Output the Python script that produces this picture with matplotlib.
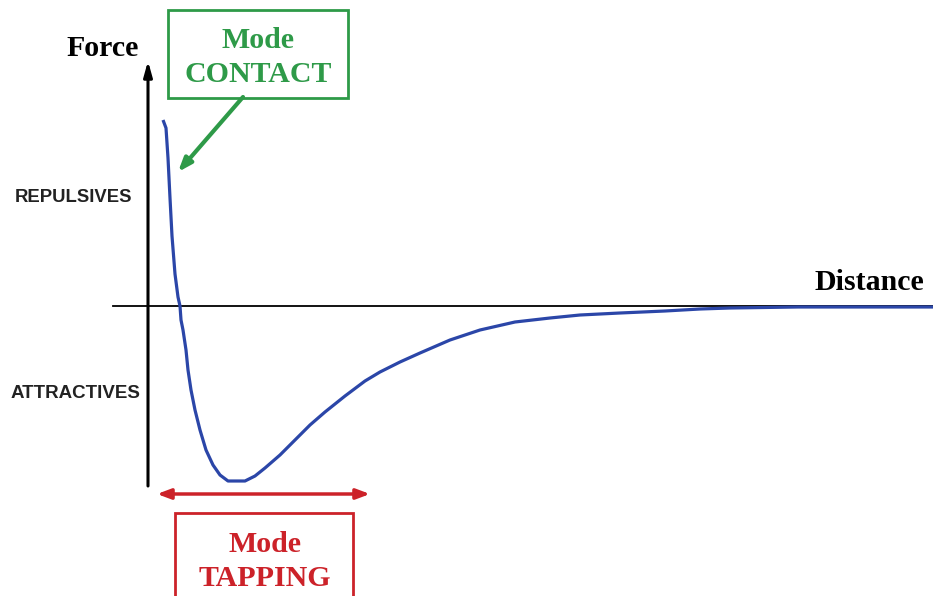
import matplotlib.pyplot as plt
from matplotlib.patches import Rectangle

# force-distance curve (distance from axis, force above zero line)
distance = [15, 18, 20, 22, 24, 27, 30, 32, 33, 35, 38, 40, 43,
            47, 52, 58, 65, 72, 80, 97, 107, 117, 132, 150, 162, 177, 197,
            217, 232, 252, 272, 302, 332, 367, 402, 432, 472, 517, 552, 582,
            650, 785]
force = [186, 178, 148, 108, 70, 32, 9, 0, -14, -24, -44, -64,
         -84, -104, -124, -144, -159, -169, -175, -175, -170, -162, -149,
         -131, -119, -106, -90, -75, -66, -56, -47, -34, -24, -16, -12, -9,
         -7, -5, -3, -2, -1, -1]

blue = '#2b46a8'
green = '#2e9a48'
red = '#cc2229'

fig = plt.figure(figsize=(9.33, 5.96), dpi=100)
ax = fig.add_axes([0, 0, 1, 1])
ax.set_xlim(-148, 785)
ax.set_ylim(-290, 306)
ax.axis('off')

# axes lines
ax.plot([-35, 785], [0, 0], color='black', lw=1.3)
ax.annotate('', xy=(0, 245), xytext=(0, -180),
            arrowprops=dict(arrowstyle='-|>,head_width=0.25,head_length=0.9',
                            color='black', lw=2.2, shrinkA=0, shrinkB=0))

ax.plot(distance, force, color=blue, lw=2.3, solid_capstyle='butt')

serif = 'Liberation Serif'
big = 21.5
ax.text(-45, 257, 'Force', fontsize=big, fontweight='bold', family=serif,
        ha='center', va='center')
ax.text(721, 24, 'Distance', fontsize=big, fontweight='bold', family=serif,
        ha='center', va='center')
ax.text(-75, 108, 'REPULSIVES', fontsize=13.3, fontweight='bold',
        family='Liberation Sans', ha='center', va='center', color='#222222')
ax.text(-73, -88, 'ATTRACTIVES', fontsize=13.5, fontweight='bold',
        family='Liberation Sans', ha='center', va='center', color='#222222')

# contact mode box
ax.add_patch(Rectangle((20, 208), 180, 88, fill=False, ec=green, lw=2))
ax.text(110, 266, 'Mode', fontsize=big, fontweight='bold', family=serif,
        color=green, ha='center', va='center')
ax.text(110, 231, 'CONTACT', fontsize=big, fontweight='bold', family=serif,
        color=green, ha='center', va='center')
ax.annotate('', xy=(30, 134), xytext=(95, 209),
            arrowprops=dict(arrowstyle='-|>,head_width=0.3,head_length=0.8',
                            color=green, lw=3, shrinkA=0, shrinkB=0))

# tapping mode range + box
ax.annotate('', xy=(9, -188), xytext=(222, -188),
            arrowprops=dict(arrowstyle='<|-|>,head_width=0.3,head_length=0.8',
                            color=red, lw=2.5, shrinkA=0, shrinkB=0))
ax.add_patch(Rectangle((27, -300), 178, 93, fill=False, ec=red, lw=2))
ax.text(117, -238, 'Mode', fontsize=big, fontweight='bold', family=serif,
        color=red, ha='center', va='center')
ax.text(117, -273, 'TAPPING', fontsize=big, fontweight='bold', family=serif,
        color=red, ha='center', va='center')

fig.savefig('out.png', dpi=100)
